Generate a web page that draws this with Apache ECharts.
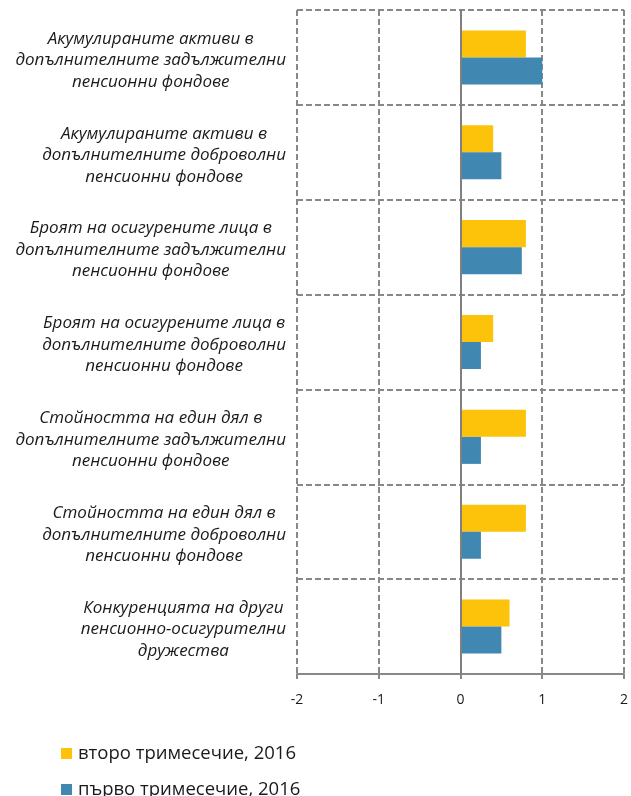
<!DOCTYPE html>
<html>
<head>
<meta charset="utf-8">
<script src="https://cdn.jsdelivr.net/npm/echarts@6/dist/echarts.min.js"></script>
<style>
  html, body { margin: 0; padding: 0; background: #fff; }
  #chart { width: 631px; height: 796px; }
</style>
</head>
<body>
<div id="chart"></div>
<script>
const categories = [
  "Акумулираните активи в\nдопълнителните задължителни\nпенсионни фондове",
  "Акумулираните активи в\nдопълнителните доброволни\nпенсионни фондове",
  "Броят на осигурените лица в\nдопълнителните задължителни\nпенсионни фондове",
  "Броят на осигурените лица в\nдопълнителните доброволни\nпенсионни фондове",
  "Стойността на един дял в\nдопълнителните задължителни\nпенсионни фондове",
  "Стойността на един дял в\nдопълнителните доброволни\nпенсионни фондове",
  "Конкуренцията на други\nпенсионно-осигурителни\nдружества"
];
const secondQuarter = [0.8, 0.4, 0.8, 0.4, 0.8, 0.8, 0.6];
const firstQuarter = [1.0, 0.5, 0.75, 0.25, 0.25, 0.25, 0.5];
const seriesNames = ["второ тримесечие, 2016", "първо тримесечие, 2016"];
const xTicks = [-2, 2, 1];

const gridStyle = { color: "#888888", width: 2, type: [6, 3] };
const legendText = { fontFamily: "Open Sans", fontSize: 18.5, color: "#1a1a1a", padding: [0, 0, 0, 1] };

const chart = echarts.init(document.getElementById("chart"), null, { renderer: "canvas" });
chart.setOption({
  animation: false,
  backgroundColor: "#ffffff",
  grid: { left: 297, right: 6, top: 10, bottom: 122, containLabel: false },
  legend: [
    {
      left: 56, top: 739, itemWidth: 11, itemHeight: 11, icon: "rect",
      textStyle: legendText, data: [seriesNames[0]]
    },
    {
      left: 56, top: 775, itemWidth: 11, itemHeight: 11, icon: "rect",
      textStyle: legendText, data: [seriesNames[1]]
    }
  ],
  xAxis: {
    type: "value",
    min: xTicks[0],
    max: xTicks[1],
    interval: xTicks[2],
    axisLine: { show: true, onZero: false, lineStyle: { color: "#888888", width: 2 } },
    axisTick: { show: true, length: 5, lineStyle: { color: "#888888", width: 2 } },
    axisLabel: { margin: 19, fontFamily: "Open Sans", fontSize: 14, color: "#1a1a1a" },
    splitLine: { show: true, lineStyle: gridStyle }
  },
  yAxis: {
    type: "category",
    inverse: true,
    data: categories,
    axisLine: { show: false },
    axisTick: { show: false },
    splitLine: { show: true, lineStyle: gridStyle },
    axisLabel: {
      margin: 11,
      align: "right",
      padding: [6, 0, 0, 0],
      formatter: v => "{c|" + v.split("\n").join("}\n{c|") + "}",
      rich: {
        c: {
          align: "center",
          fontFamily: "Open Sans",
          fontStyle: "italic",
          fontSize: 17,
          lineHeight: 21.5,
          color: "#1a1a1a"
        }
      }
    }
  },
  series: [
    {
      name: seriesNames[0],
      type: "bar",
      data: secondQuarter,
      barGap: "0%",
      barCategoryGap: "43%",
      itemStyle: { color: "#FDC20A" },
      markLine: {
        silent: true,
        symbol: "none",
        label: { show: false },
        lineStyle: { color: "#808080", width: 2, type: "solid" },
        data: [{ xAxis: 0 }]
      }
    },
    {
      name: seriesNames[1],
      type: "bar",
      data: firstQuarter,
      barGap: "0%",
      barCategoryGap: "43%",
      itemStyle: { color: "#4088B2" }
    }
  ]
});
</script>
</body>
</html>
